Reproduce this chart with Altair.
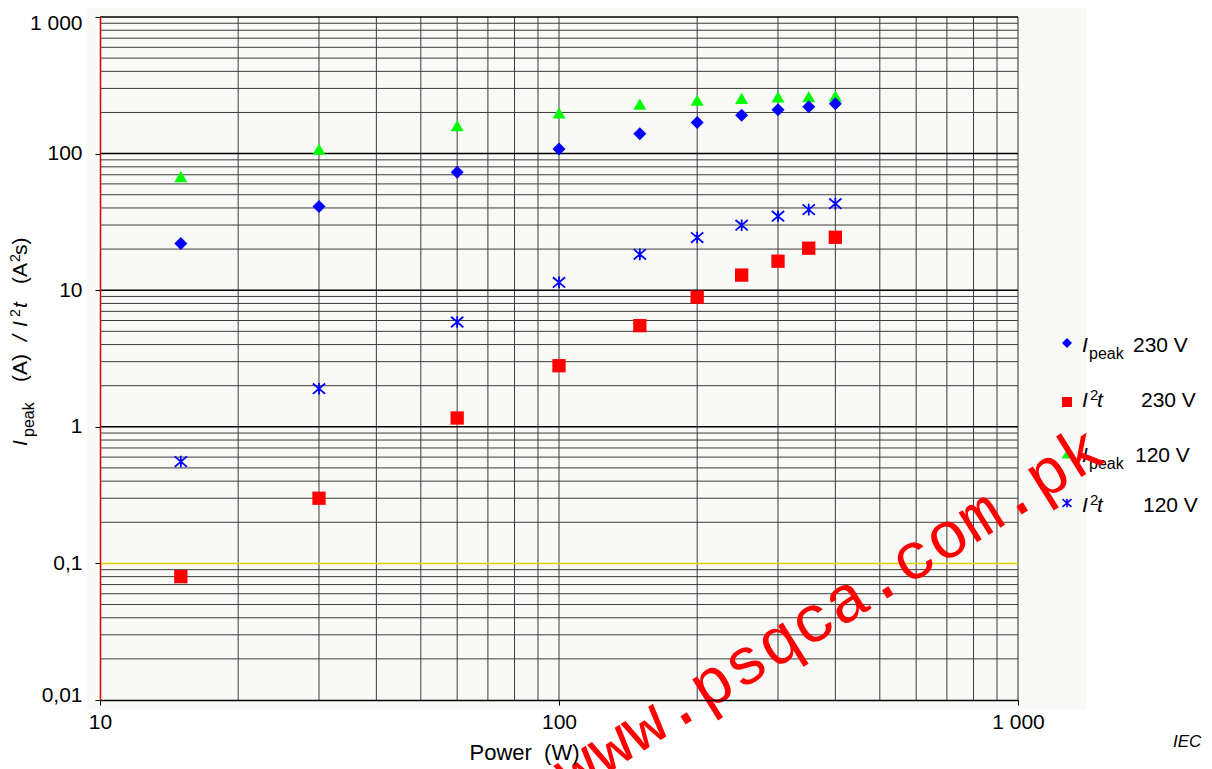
import altair as alt
import pandas as pd

# ---------------- data ----------------
power = [15, 30, 60, 100, 150, 200, 250, 300, 350, 400]
ipeak_230 = [22, 41, 73, 108, 140, 169, 191, 209, 220, 232]
i2t_230 = [0.08, 0.30, 1.16, 2.8, 5.5, 8.9, 12.9, 16.3, 20.3, 24.4]
ipeak_120 = [68, 108, 160, 199, 230, 246, 254, 260, 261, 264]
i2t_120 = [0.556, 1.9, 5.85, 11.4, 18.3, 24.3, 29.9, 34.8, 38.9, 43]

x_ticks = [10, 100, 1000]
x_tick_labels = ["10", "100", "1 000"]
y_ticks = [0.01, 0.1, 1, 10, 100, 1000]
y_tick_labels = ["0,01", "0,1", "1", "10", "100", "1 000"]

x_grid = [20, 30, 40, 50, 60, 70, 80, 90, 100, 200, 300, 400, 500, 600, 700, 800, 900]
x_border = [1000]
y_grid_minor = [0.02, 0.03, 0.04, 0.05, 0.06, 0.07, 0.08, 0.09,
                0.2, 0.3, 0.4, 0.5, 0.6, 0.7, 0.8, 0.9,
                2, 3, 4, 5, 6, 7, 8, 9,
                20, 30, 40, 50, 60, 70, 80, 90,
                200, 300, 400, 500, 600, 700, 800, 900]
y_grid_major = [1, 10, 100, 1000]
y_grid_yellow = [0.1]

OX, OY = 100, 17  # page position of the plot origin
FONT = "Liberation Sans"


def label_expr(vals, labels):
    expr = "''"
    for v, l in reversed(list(zip(vals, labels))):
        expr = f"abs(datum.value - {v}) < {v * 1e-4} ? '{l}' : " + expr
    return expr


xscale = alt.Scale(type="log", domain=[10, 1000], nice=False)
yscale = alt.Scale(type="log", domain=[0.01, 1000], nice=False)

x_axis = alt.Axis(values=x_ticks, labelExpr=label_expr(x_ticks, x_tick_labels), grid=False,
                  domainColor="black", domainWidth=1.5, tickColor="black", tickSize=5,
                  labelFontSize=21, labelFont=FONT, labelColor="black", labelPadding=6,
                  labelFlush=False, labelOverlap=False, zindex=1,
                  title="Power\u00a0\u00a0(W)", titleFontSize=22, titleFont=FONT,
                  titleFontWeight="normal", titleColor="black", titleX=424, titleY=59,
                  titleBaseline="alphabetic", titleAlign="center")
y_axis = alt.Axis(values=y_ticks, labelExpr=label_expr(y_ticks, y_tick_labels), grid=False,
                  domainColor="#d40000", domainWidth=1.5, tickColor="black", tickSize=5,
                  labelFontSize=21, labelFont=FONT, labelColor="black", labelPadding=13,
                  labelFlush=True, labelFlushOffset=5, labelOverlap=False, zindex=1,
                  title=None)

one = pd.DataFrame({"a": [0]})

bg = alt.Chart(one).mark_rect(color="#f9f9f7").encode(
    x=alt.value(87 - OX), x2=alt.value(1087 - OX),
    y=alt.value(-9), y2=alt.value(710 - OY))


def vrules(vals, color, width):
    return alt.Chart(pd.DataFrame({"x": vals})).mark_rule(color=color, strokeWidth=width).encode(
        x=alt.X("x:Q", scale=xscale, axis=x_axis))


def hrules(vals, color, width):
    return alt.Chart(pd.DataFrame({"y": vals})).mark_rule(color=color, strokeWidth=width).encode(
        y=alt.Y("y:Q", scale=yscale, axis=y_axis))


grid_layers = [
    vrules(x_grid, "#3c3c3c", 1),
    vrules(x_border, "#707070", 1.5),
    hrules(y_grid_minor, "#3c3c3c", 1),
    hrules(y_grid_major, "#000000", 1.5),
    hrules(y_grid_yellow, "#d8d800", 1.5),
]

STAR = "M-1,-0.85L1,0.85M-1,0.85L1,-0.85M0,-0.95L0,0.95"


def pts(values, shape, color, size, filled=True):
    df = pd.DataFrame({"x": power, "y": values})
    if filled:
        m = alt.Chart(df).mark_point(shape=shape, filled=True, color=color, size=size, opacity=1)
    else:
        m = alt.Chart(df).mark_point(shape=shape, filled=False, color=color, size=size,
                                     opacity=1, strokeWidth=1.8)
    return m.encode(
        x=alt.X("x:Q", scale=xscale, axis=x_axis),
        y=alt.Y("y:Q", scale=yscale, axis=y_axis))


point_layers = [
    pts(ipeak_120, "triangle-up", "#00ff00", 170),
    pts(ipeak_230, "diamond", "#0000ff", 169),
    pts(i2t_120, STAR, "#0000ff", 150, filled=False),
    pts(i2t_230, "square", "#ff0000", 177),
]


def txt(text, x, y, size=21, italic=False, angle=0, align="left", color="black", font=FONT):
    return alt.Chart(pd.DataFrame({"t": [text]})).mark_text(
        align=align, baseline="alphabetic", fontSize=size, font=font,
        fontStyle="italic" if italic else "normal", angle=angle, color=color).encode(
        x=alt.value(x - OX), y=alt.value(y - OY), text="t:N")


def marker(x, y, shape, color, size, filled=True):
    if filled:
        m = alt.Chart(one).mark_point(shape=shape, filled=True, color=color, size=size, opacity=1)
    else:
        m = alt.Chart(one).mark_point(shape=shape, filled=False, color=color, size=size,
                                      opacity=1, strokeWidth=1.6)
    return m.encode(x=alt.value(x - OX), y=alt.value(y - OY))


# y-axis title (rotated), pieces for italic / sub / superscript
ytitle = [
    txt("I", 27, 446, 21, italic=True, angle=270),
    txt("peak", 34, 437, 16, angle=270),
    txt("(A)", 27, 382, 21, angle=270),
    txt("/", 27, 341, 21, italic=True, angle=270),
    txt("I", 27, 327, 21, italic=True, angle=270),
    txt("2", 19.5, 317, 14, angle=270),
    txt("t", 27, 308, 21, italic=True, angle=270),
    txt("(A", 27, 284, 21, angle=270),
    txt("2", 19.5, 262, 14, angle=270),
    txt("s)", 27, 255, 21, angle=270),
]

legend = [
    marker(1067, 343, "diamond", "#0000ff", 100),
    txt("I", 1082, 352, 21, italic=True),
    txt("peak", 1089, 359, 16),
    txt("230 V", 1133, 352, 21),

    marker(1067, 402, "square", "#ff0000", 100),
    txt("I", 1082, 407, 21, italic=True),
    txt("2", 1090, 400, 15),
    txt("t", 1097, 407, 21, italic=True),
    txt("230 V", 1141, 407, 21),

    marker(1067, 454, "triangle-up", "#00ff00", 110),
    txt("I", 1082, 462, 21, italic=True),
    txt("peak", 1089, 469, 16),
    txt("120 V", 1135, 462, 21),

    marker(1067, 503, STAR, "#0000ff", 81, filled=False),
    txt("I", 1082, 512, 21, italic=True),
    txt("2", 1090, 505, 15),
    txt("t", 1097, 512, 21, italic=True),
    txt("120 V", 1143, 512, 21),
]

extras = [
    txt("IEC", 1173, 747, 17, italic=True),
    txt("www.psqca.com.pk", 840, 628, 66, angle=328, align="center", color="#ff0000",
        font="Liberation Mono"),
]

chart = alt.layer(bg, *grid_layers, *point_layers, *ytitle, *legend, *extras).properties(
    width=918, height=683,
    autosize=alt.AutoSizeParams(type="none"),
    padding={"left": 92, "top": 9, "right": 186, "bottom": 69},
).configure(background="white").configure_view(stroke=None)

chart.save("out.html", embed_options={"renderer": "svg", "actions": False})
